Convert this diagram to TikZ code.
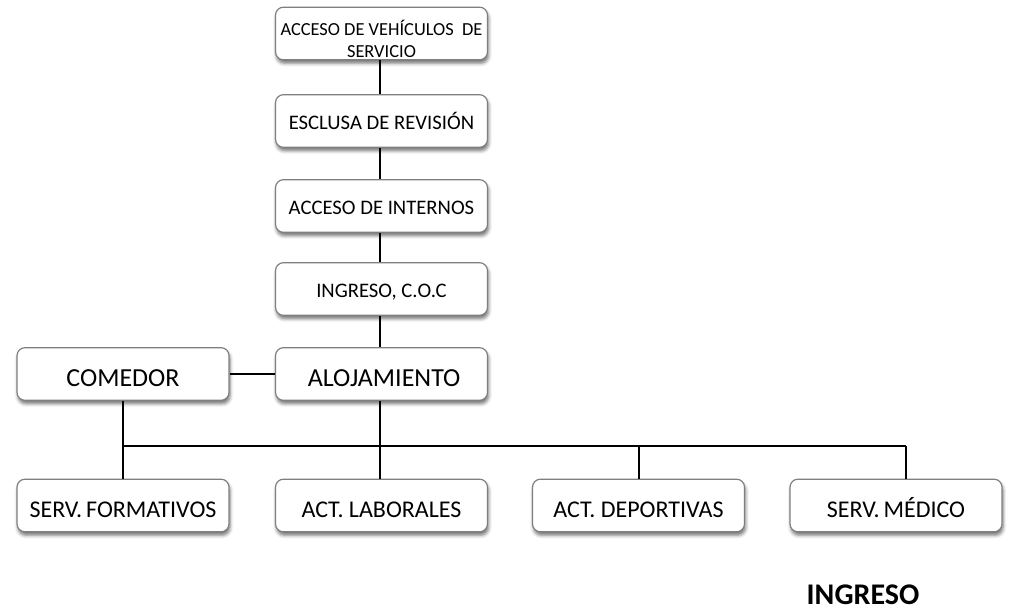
\documentclass[tikz,border=0pt]{standalone}
\usepackage{fontspec}
\setmainfont{Carlito}
\usetikzlibrary{shadows.blur}
\definecolor{boxline}{HTML}{7F7F7F}
\tikzset{
  box/.style={draw=boxline, line width=0.9pt, fill=white, rounded corners=6pt,
    minimum width=159pt, minimum height=39.5pt, inner sep=0pt, align=center,
    blur shadow={shadow xshift=0.8pt, shadow yshift=-2.6pt, shadow blur radius=2.5pt, shadow opacity=55}},
  small/.style={font=\fontsize{13.8pt}{16.5pt}\selectfont, text height=36.4pt, text depth=0pt},
  mid/.style={font=\fontsize{15.5pt}{18pt}\selectfont, text height=12.5pt, text depth=0pt},
  big/.style={font=\fontsize{19.5pt}{23pt}\selectfont, text height=19.3pt, text depth=0pt},
  bot/.style={font=\fontsize{18pt}{21pt}\selectfont, text height=17.6pt, text depth=0pt},
  link/.style={line width=1.5pt, black}
}
\begin{document}
\begin{tikzpicture}[x=0.75pt,y=-0.75pt]
\useasboundingbox (0,0) rectangle (1009,610);
\node[box,small] (a1) at (381.5,33.5) {ACCESO DE VEHÍCULOS\ \ DE\\SERVICIO};
\node[box,mid] (a2) at (381.5,121) {ESCLUSA DE REVISIÓN};
\node[box,mid] (a3) at (381.5,206) {ACCESO DE INTERNOS};
\node[box,mid] (a4) at (381.5,289) {INGRESO, C.O.C};
\node[box,big] (aloj) at (381.5,374) {\hspace*{0.2em}ALOJAMIENTO};
\node[box,big] (com) at (123,374) {COMEDOR};
\node[box,bot] (sf) at (123,505.5) {SERV.\,FORMATIVOS};
\node[box,bot] (al) at (381.5,505.5) {ACT. LABORALES};
\node[box,bot] (ad) at (638.5,505.5) {ACT. DEPORTIVAS};
\node[box,bot] (sm) at (896,505.5) {SERV.\,MÉDICO};
\node[font=\fontsize{22.5pt}{26pt}\selectfont\bfseries, text height=14.4pt, text depth=0pt, inner sep=0pt] (ing) at (863,594.5) {INGRESO};
\coordinate (bL) at (123,446);
\coordinate (bR) at (906,446);
\draw[link] (a1.south -| 380,0) -- (a2.north -| 380,0);
\draw[link] (a2.south -| 380,0) -- (a3.north -| 380,0);
\draw[link] (a3.south -| 380,0) -- (a4.north -| 380,0);
\draw[link] (a4.south -| 380,0) -- (aloj.north -| 380,0);
\draw[link] (com) -- (aloj);
\draw[link] (com.south) -- (sf.north);
\draw[link] (aloj.south -| 380,0) -- (al.north -| 380,0);
\draw[link] (bL) -- (bR);
\draw[link] (ad.north) -- (ad.north |- bL);
\draw[link] (sm.north -| bR) -- (bR);
\end{tikzpicture}
\end{document}
